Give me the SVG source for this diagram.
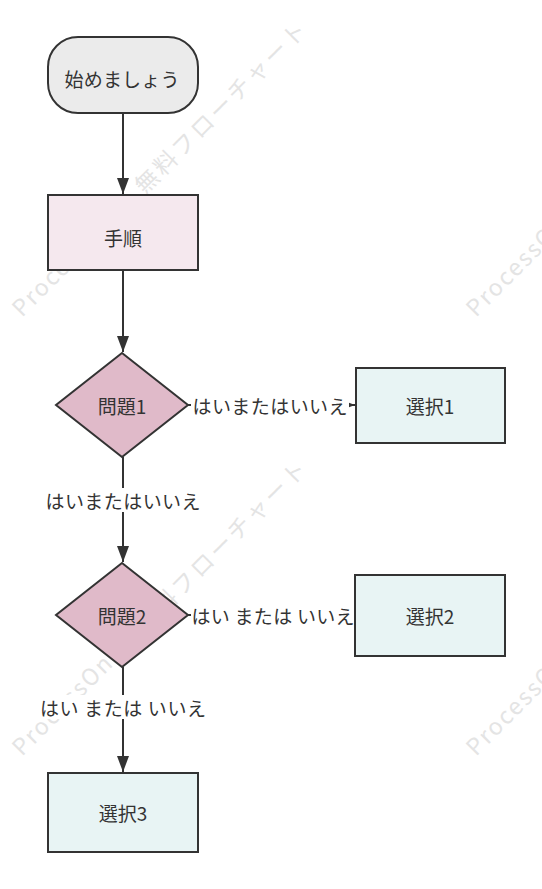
<svg xmlns="http://www.w3.org/2000/svg" width="542" height="889" viewBox="0 0 542 889">
<style>
.wm{font-family:"Noto Sans CJK JP","Noto Sans",sans-serif;font-size:23px;fill:#e4e4e4;letter-spacing:2px}
.wm .j{letter-spacing:3px}
.node{stroke:#333;stroke-width:2}
.t{font-family:"Noto Sans CJK JP","Noto Sans",sans-serif;font-size:19px;fill:#333;text-anchor:middle;dominant-baseline:central}
.conn{stroke:#333;stroke-width:2;fill:none}
.lbg{fill:#fff}
</style>
<defs>
<marker id="arr" viewBox="0 0 16 12" refX="16" refY="6" markerWidth="8" markerHeight="6" markerUnits="strokeWidth" orient="auto">
<path d="M0,0 L16,6 L0,12 z" fill="#333"/>
</marker>
</defs>
<rect width="542" height="889" fill="#fff"/>
<g id="watermarks">
<text class="wm" x="22" y="318" transform="rotate(-45 22 318)">ProcessOn<tspan class="j" dx="42">無料フローチャート</tspan></text>
<text class="wm" x="22" y="757" transform="rotate(-45 22 757)">ProcessOn<tspan class="j" dx="42">無料フローチャート</tspan></text>
<text class="wm" x="476" y="318" transform="rotate(-45 476 318)">ProcessOn<tspan class="j" dx="42">無料フローチャート</tspan></text>
<text class="wm" x="476" y="757" transform="rotate(-45 476 757)">ProcessOn<tspan class="j" dx="42">無料フローチャート</tspan></text>
</g>
<g id="connectors">
<line class="conn" x1="123" y1="113" x2="123" y2="194" marker-end="url(#arr)"/>
<line class="conn" x1="123" y1="270" x2="123" y2="352" marker-end="url(#arr)"/>
<line class="conn" x1="188" y1="405" x2="355" y2="405" marker-end="url(#arr)"/>
<line class="conn" x1="123" y1="457" x2="123" y2="562" marker-end="url(#arr)"/>
<line class="conn" x1="188" y1="615" x2="354" y2="615" marker-end="url(#arr)"/>
<line class="conn" x1="123" y1="667" x2="123" y2="772" marker-end="url(#arr)"/>
<rect class="lbg" x="191" y="394" width="158" height="22"/>
<text class="t" x="270" y="405" textLength="155" lengthAdjust="spacing">はいまたはいいえ</text>
<rect class="lbg" x="45" y="488" width="157" height="24"/>
<text class="t" x="123" y="500" textLength="155" lengthAdjust="spacing">はいまたはいいえ</text>
<rect class="lbg" x="191" y="604" width="163" height="22"/>
<text class="t" x="273" y="615" textLength="163" xml:space="preserve" lengthAdjust="spacing">はい または いいえ</text>
<rect class="lbg" x="38" y="695" width="170" height="24"/>
<text class="t" x="123" y="707" textLength="166" xml:space="preserve" lengthAdjust="spacing">はい または いいえ</text>
</g>
<g id="start">
<rect class="node" x="48" y="37" width="150" height="76" rx="30" ry="30" fill="#ebebeb"/>
<text class="t" x="122" y="78" textLength="115" lengthAdjust="spacing">始めましょう</text>
</g>
<g id="step">
<rect class="node" x="48" y="195" width="150" height="75" fill="#f5e8ee"/>
<text class="t" x="123" y="237">手順</text>
</g>
<g id="q1">
<polygon class="node" points="122,353 188,405 122,457 56,405" fill="#e0bac9"/>
<text class="t" x="122" y="405">問題1</text>
</g>
<g id="c1">
<rect class="node" x="356" y="368" width="149" height="75" fill="#e8f4f4"/>
<text class="t" x="430" y="405">選択1</text>
</g>
<g id="q2">
<polygon class="node" points="122,563 188,615 122,667 56,615" fill="#e0bac9"/>
<text class="t" x="122" y="615">問題2</text>
</g>
<g id="c2">
<rect class="node" x="355" y="575" width="150" height="81" fill="#e8f4f4"/>
<text class="t" x="430" y="615">選択2</text>
</g>
<g id="c3">
<rect class="node" x="48" y="773" width="150" height="79" fill="#e8f4f4"/>
<text class="t" x="123" y="812">選択3</text>
</g>
</svg>
